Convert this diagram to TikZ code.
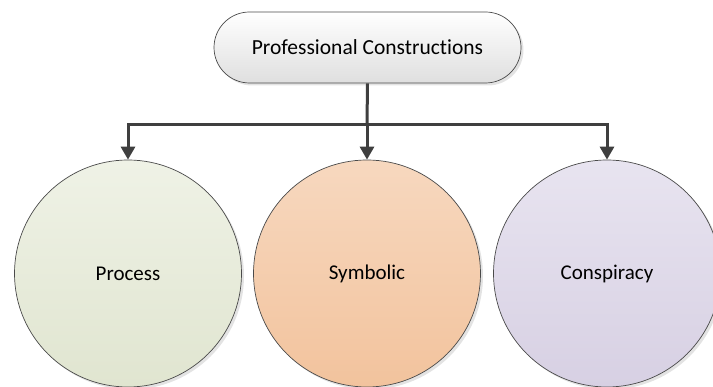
\documentclass[tikz,border=0pt]{standalone}
\usepackage{fontspec}
\setmainfont{Carlito}[Ligatures={NoCommon}]
\usetikzlibrary{shapes.misc,shadows,arrows.meta}
\definecolor{edgegray}{HTML}{4A4A4A}
\definecolor{linegray}{HTML}{3F3F3F}
\definecolor{procTop}{HTML}{EFF2E6}
\definecolor{procBot}{HTML}{E0E5D0}
\definecolor{symTop}{HTML}{F7D8BF}
\definecolor{symBot}{HTML}{F2C39D}
\definecolor{conTop}{HTML}{E8E4F0}
\definecolor{conBot}{HTML}{D7D0E3}
\definecolor{pillTop}{HTML}{FFFFFF}
\definecolor{pillBot}{HTML}{DFDFDF}
\tikzset{
  softshadow/.style={drop shadow={shadow xshift=2.5pt,shadow yshift=-2.5pt,opacity=0.18,fill=black!60}},
  circlenode/.style={circle,draw=edgegray,line width=0.7pt,minimum size=227pt,inner sep=0pt,
    font=\fontsize{21}{25}\selectfont,softshadow},
  pillnode/.style={rounded rectangle,draw=edgegray,line width=0.7pt,minimum width=307pt,minimum height=71pt,
    inner sep=0pt,top color=pillTop,bottom color=pillBot,font=\fontsize{21.5}{25}\selectfont,softshadow},
  conn/.style={draw=linegray,line width=3pt,-{Triangle[length=13pt,width=14pt]}}
}
\begin{document}
\begin{tikzpicture}[x=1pt,y=-1pt]
\useasboundingbox (0,0) rectangle (713,387);
\node[pillnode] (top) at (367.5,47.5) {Professional Constructions};
\node[circlenode,top color=procTop,bottom color=procBot] (proc) at (128,273.5) {Process};
\node[circlenode,top color=symTop,bottom color=symBot] (sym) at (367,273.5) {Symbolic};
\node[circlenode,top color=conTop,bottom color=conBot] (con) at (607,273.5) {Conspiracy};
\coordinate (j) at (367,125);
\draw[draw=linegray,line width=3pt] (top.south) -- (j);
\draw[conn] (j) -| (proc.north);
\draw[conn] (j) -- (sym.north);
\draw[conn] (j) -| (con.north);
\end{tikzpicture}
\end{document}
